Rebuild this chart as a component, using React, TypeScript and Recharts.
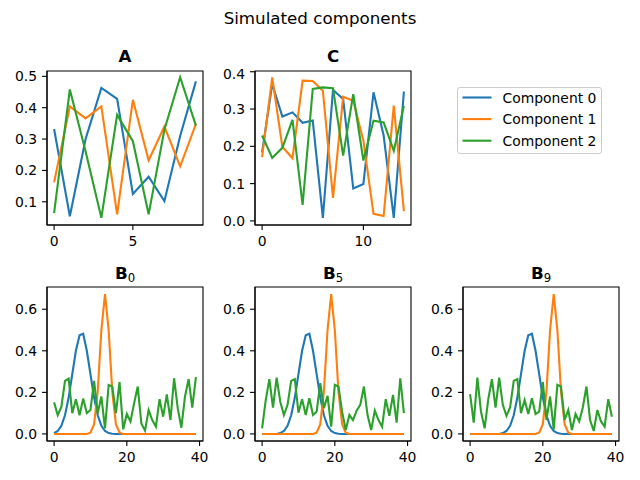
import React from 'react';
import { LineChart, Line, XAxis, YAxis, ReferenceArea } from 'recharts';

const colors = ['#1f77b4', '#ff7f0e', '#2ca02c'];
const seriesNames = ['Component 0', 'Component 1', 'Component 2'];

// Panel A (10 samples)
const aComp0 = [0.332, 0.054, 0.3, 0.463, 0.428, 0.125, 0.18, 0.102, 0.31, 0.484];
const aComp1 = [0.162, 0.404, 0.366, 0.404, 0.06, 0.425, 0.232, 0.34, 0.213, 0.348];
const aComp2 = [0.064, 0.458, 0.26, 0.049, 0.377, 0.293, 0.06, 0.33, 0.497, 0.343];

// Panel C (15 samples)
const cComp0 = [0.184, 0.367, 0.28, 0.291, 0.263, 0.269, 0.008, 0.351, 0.327, 0.087, 0.099, 0.345, 0.229, 0.008, 0.347];
const cComp1 = [0.171, 0.385, 0.199, 0.168, 0.376, 0.375, 0.349, 0.062, 0.333, 0.322, 0.215, 0.019, 0.013, 0.309, 0.026];
const cComp2 = [0.229, 0.169, 0.196, 0.271, 0.043, 0.354, 0.358, 0.356, 0.175, 0.34, 0.162, 0.269, 0.264, 0.188, 0.309];

// B panels (40 samples each)
const b0Comp0 = [
  0.004, 0.014, 0.039, 0.09, 0.175, 0.288, 0.4, 0.475, 0.482, 0.4,
  0.288, 0.175, 0.09, 0.039, 0.014, 0.004, 0.001, 0, 0, 0,
  0, 0, 0, 0, 0, 0, 0, 0, 0, 0,
  0, 0, 0, 0, 0, 0, 0, 0, 0, 0,
];
const b0Comp1 = [
  0, 0, 0, 0, 0, 0, 0, 0, 0, 0,
  0.006, 0.047, 0.205, 0.5, 0.673, 0.5, 0.205, 0.047, 0.006, 0,
  0, 0, 0, 0, 0, 0, 0, 0, 0, 0,
  0, 0, 0, 0, 0, 0, 0, 0, 0, 0,
];
const b0Comp2 = [
  0.152, 0.09, 0.13, 0.255, 0.266, 0.1, 0.167, 0.09, 0.17, 0.1,
  0.115, 0.255, 0.1, 0.18, 0.027, 0.235, 0.228, 0.1, 0.25, 0.022,
  0.096, 0.06, 0.147, 0.228, 0.05, 0.016, 0.115, 0.067, 0.035, 0.167,
  0.083, 0.19, 0.067, 0.268, 0.124, 0.03, 0.18, 0.264, 0.127, 0.273,
];

const b5Comp0 = [
  0, 0, 0, 0, 0, 0.004, 0.014, 0.039, 0.09, 0.175,
  0.288, 0.4, 0.475, 0.482, 0.4, 0.288, 0.175, 0.09, 0.039, 0.014,
  0.004, 0.001, 0, 0, 0, 0, 0, 0, 0, 0,
  0, 0, 0, 0, 0, 0, 0, 0, 0, 0,
];
const b5Comp1 = [
  0, 0, 0, 0, 0, 0, 0, 0, 0, 0,
  0, 0, 0, 0, 0, 0.006, 0.047, 0.205, 0.5, 0.673,
  0.5, 0.205, 0.047, 0.006, 0, 0, 0, 0, 0, 0,
  0, 0, 0, 0, 0, 0, 0, 0, 0, 0,
];
const b5Comp2 = [
  0.027, 0.163, 0.264, 0.127, 0.271, 0.155, 0.091, 0.14, 0.255, 0.264,
  0.102, 0.167, 0.091, 0.172, 0.091, 0.107, 0.244, 0.124, 0.183, 0.035,
  0.236, 0.228, 0.107, 0.019, 0.091, 0.067, 0.112, 0.14, 0.228, 0.091,
  0.019, 0.112, 0.067, 0.035, 0.167, 0.087, 0.188, 0.054, 0.268, 0.1,
];

const b9Comp0 = [
  0, 0, 0, 0, 0, 0, 0, 0, 0, 0.004,
  0.014, 0.039, 0.09, 0.175, 0.288, 0.4, 0.475, 0.482, 0.4, 0.288,
  0.175, 0.09, 0.039, 0.014, 0.004, 0.001, 0, 0, 0, 0,
  0, 0, 0, 0, 0, 0, 0, 0, 0, 0,
];
const b9Comp1 = [
  0, 0, 0, 0, 0, 0, 0, 0, 0, 0,
  0, 0, 0, 0, 0, 0, 0, 0, 0, 0.006,
  0.047, 0.205, 0.5, 0.673, 0.5, 0.205, 0.047, 0.006, 0, 0,
  0, 0, 0, 0, 0, 0, 0, 0, 0, 0,
];
const b9Comp2 = [
  0.192, 0.054, 0.271, 0.107, 0.027, 0.167, 0.264, 0.127, 0.271, 0.14,
  0.087, 0.127, 0.255, 0.264, 0.1, 0.163, 0.096, 0.172, 0.096, 0.107,
  0.25, 0.067, 0.18, 0.022, 0.236, 0.228, 0.067, 0.115, 0.019, 0.096,
  0.06, 0.127, 0.228, 0.067, 0.014, 0.115, 0.06, 0.035, 0.167, 0.083,
];

const aYTicks = [0.1, 0.2, 0.3, 0.4, 0.5];
const cYTicks = [0, 0.1, 0.2, 0.3, 0.4];
const bYTicks = [0, 0.2, 0.4, 0.6];
const aXTicks = [0, 5];
const cXTicks = [0, 10];
const bXTicks = [0, 20, 40];

// plot box geometry (px)
const PW = 156;
const PH = 154;
const YW = 45;
const MT = 5;
const MR = 5;
const XH = 30;
const FONT = '"DejaVu Sans", sans-serif';

const spine = { stroke: '#000', strokeWidth: 1.1 };
const tickText = { fill: '#000', fontSize: 13.9 };

interface PanelProps {
  left: number;
  top: number;
  series: number[][];
  xDomain: [number, number];
  xTicks: number[];
  yDomain: [number, number];
  yTicks: number[];
}

const Panel: React.FC<PanelProps> = ({ left, top, series, xDomain, xTicks, yDomain, yTicks }) => {
  const data = series[0].map((_, i) => ({
    x: i, c0: series[0][i], c1: series[1][i], c2: series[2][i],
  }));
  return (
    <div style={{ position: 'absolute', left: left - YW, top: top - MT }}>
      <LineChart
        width={YW + PW + MR}
        height={MT + PH + XH}
        data={data}
        margin={{ top: MT, right: MR, left: 0, bottom: 0 }}
      >
        <XAxis
          dataKey="x"
          type="number"
          domain={xDomain}
          ticks={xTicks}
          allowDataOverflow
          height={XH}
          tickSize={5}
          tickMargin={6}
          axisLine={spine}
          tickLine={spine}
          tick={tickText}
        />
        <YAxis
          type="number"
          domain={yDomain}
          ticks={yTicks}
          allowDataOverflow
          width={YW}
          tickSize={5}
          tickMargin={5}
          axisLine={spine}
          tickLine={spine}
          tick={tickText}
          tickFormatter={(v: number) => v.toFixed(1)}
        />
        {series.map((_, k) => (
          <Line
            key={k}
            type="linear"
            dataKey={`c${k}`}
            stroke={colors[k]}
            strokeWidth={2.1}
            dot={false}
            activeDot={false}
            isAnimationActive={false}
          />
        ))}
        {/* full frame around the plot box */}
        <ReferenceArea
          x1={xDomain[0]}
          x2={xDomain[1]}
          y1={yDomain[0]}
          y2={yDomain[1]}
          fill="none"
          fillOpacity={0}
          stroke="#000"
          strokeWidth={1.1}
          ifOverflow="visible"
        />
      </LineChart>
    </div>
  );
};

const colLeft = [47, 255, 463];
const rowTop = [71, 287];

const App: React.FC = () => {
  const bXDomain: [number, number] = [-1.95, 40.95];
  const bYDomain: [number, number] = [-0.034, 0.707];
  return (
    <div style={{ position: 'absolute', left: 0, top: 0, width: 640, height: 480, background: '#fff', fontFamily: FONT }}>
      <Panel left={colLeft[0]} top={rowTop[0]} series={[aComp0, aComp1, aComp2]}
        xDomain={[-0.45, 9.45]} xTicks={aXTicks} yDomain={[0.026, 0.517]} yTicks={aYTicks} />
      <Panel left={colLeft[1]} top={rowTop[0]} series={[cComp0, cComp1, cComp2]}
        xDomain={[-0.7, 14.7]} xTicks={cXTicks} yDomain={[-0.011, 0.402]} yTicks={cYTicks} />
      <Panel left={colLeft[0]} top={rowTop[1]} series={[b0Comp0, b0Comp1, b0Comp2]}
        xDomain={bXDomain} xTicks={bXTicks} yDomain={bYDomain} yTicks={bYTicks} />
      <Panel left={colLeft[1]} top={rowTop[1]} series={[b5Comp0, b5Comp1, b5Comp2]}
        xDomain={bXDomain} xTicks={bXTicks} yDomain={bYDomain} yTicks={bYTicks} />
      <Panel left={colLeft[2]} top={rowTop[1]} series={[b9Comp0, b9Comp1, b9Comp2]}
        xDomain={bXDomain} xTicks={bXTicks} yDomain={bYDomain} yTicks={bYTicks} />

      <svg width={640} height={480} style={{ position: 'absolute', left: 0, top: 0, pointerEvents: 'none' }}>
        <text x={320} y={23.5} textAnchor="middle" fontSize={16.7} fill="#000">Simulated components</text>
        <text x={colLeft[0] + PW / 2} y={62} textAnchor="middle" fontSize={16.7} fontWeight="bold" fill="#000">A</text>
        <text x={colLeft[1] + PW / 2} y={62} textAnchor="middle" fontSize={16.7} fontWeight="bold" fill="#000">C</text>
        {['0', '5', '9'].map((sub, i) => (
          <text key={sub} x={colLeft[i] + PW / 2} y={278.5} textAnchor="middle" fontSize={16.7} fill="#000">
            <tspan fontWeight="bold">B</tspan>
            <tspan fontSize={11.7} dy={3.5}>{sub}</tspan>
          </text>
        ))}

        {/* legend for the three components */}
        <rect x={457.5} y={87.5} width={144} height={66} rx={2.5} fill="#fff" fillOpacity={0.8} stroke="#cccccc" strokeWidth={1} />
        {seriesNames.map((name, k) => {
          const cy = 97.5 + k * 21.6;
          return (
            <g key={name}>
              <line x1={462.5} x2={491.5} y1={cy} y2={cy} stroke={colors[k]} strokeWidth={2.1} />
              <text x={502.5} y={cy + 5} fontSize={13.9} fill="#000">{name}</text>
            </g>
          );
        })}
      </svg>
    </div>
  );
};

export default App;
